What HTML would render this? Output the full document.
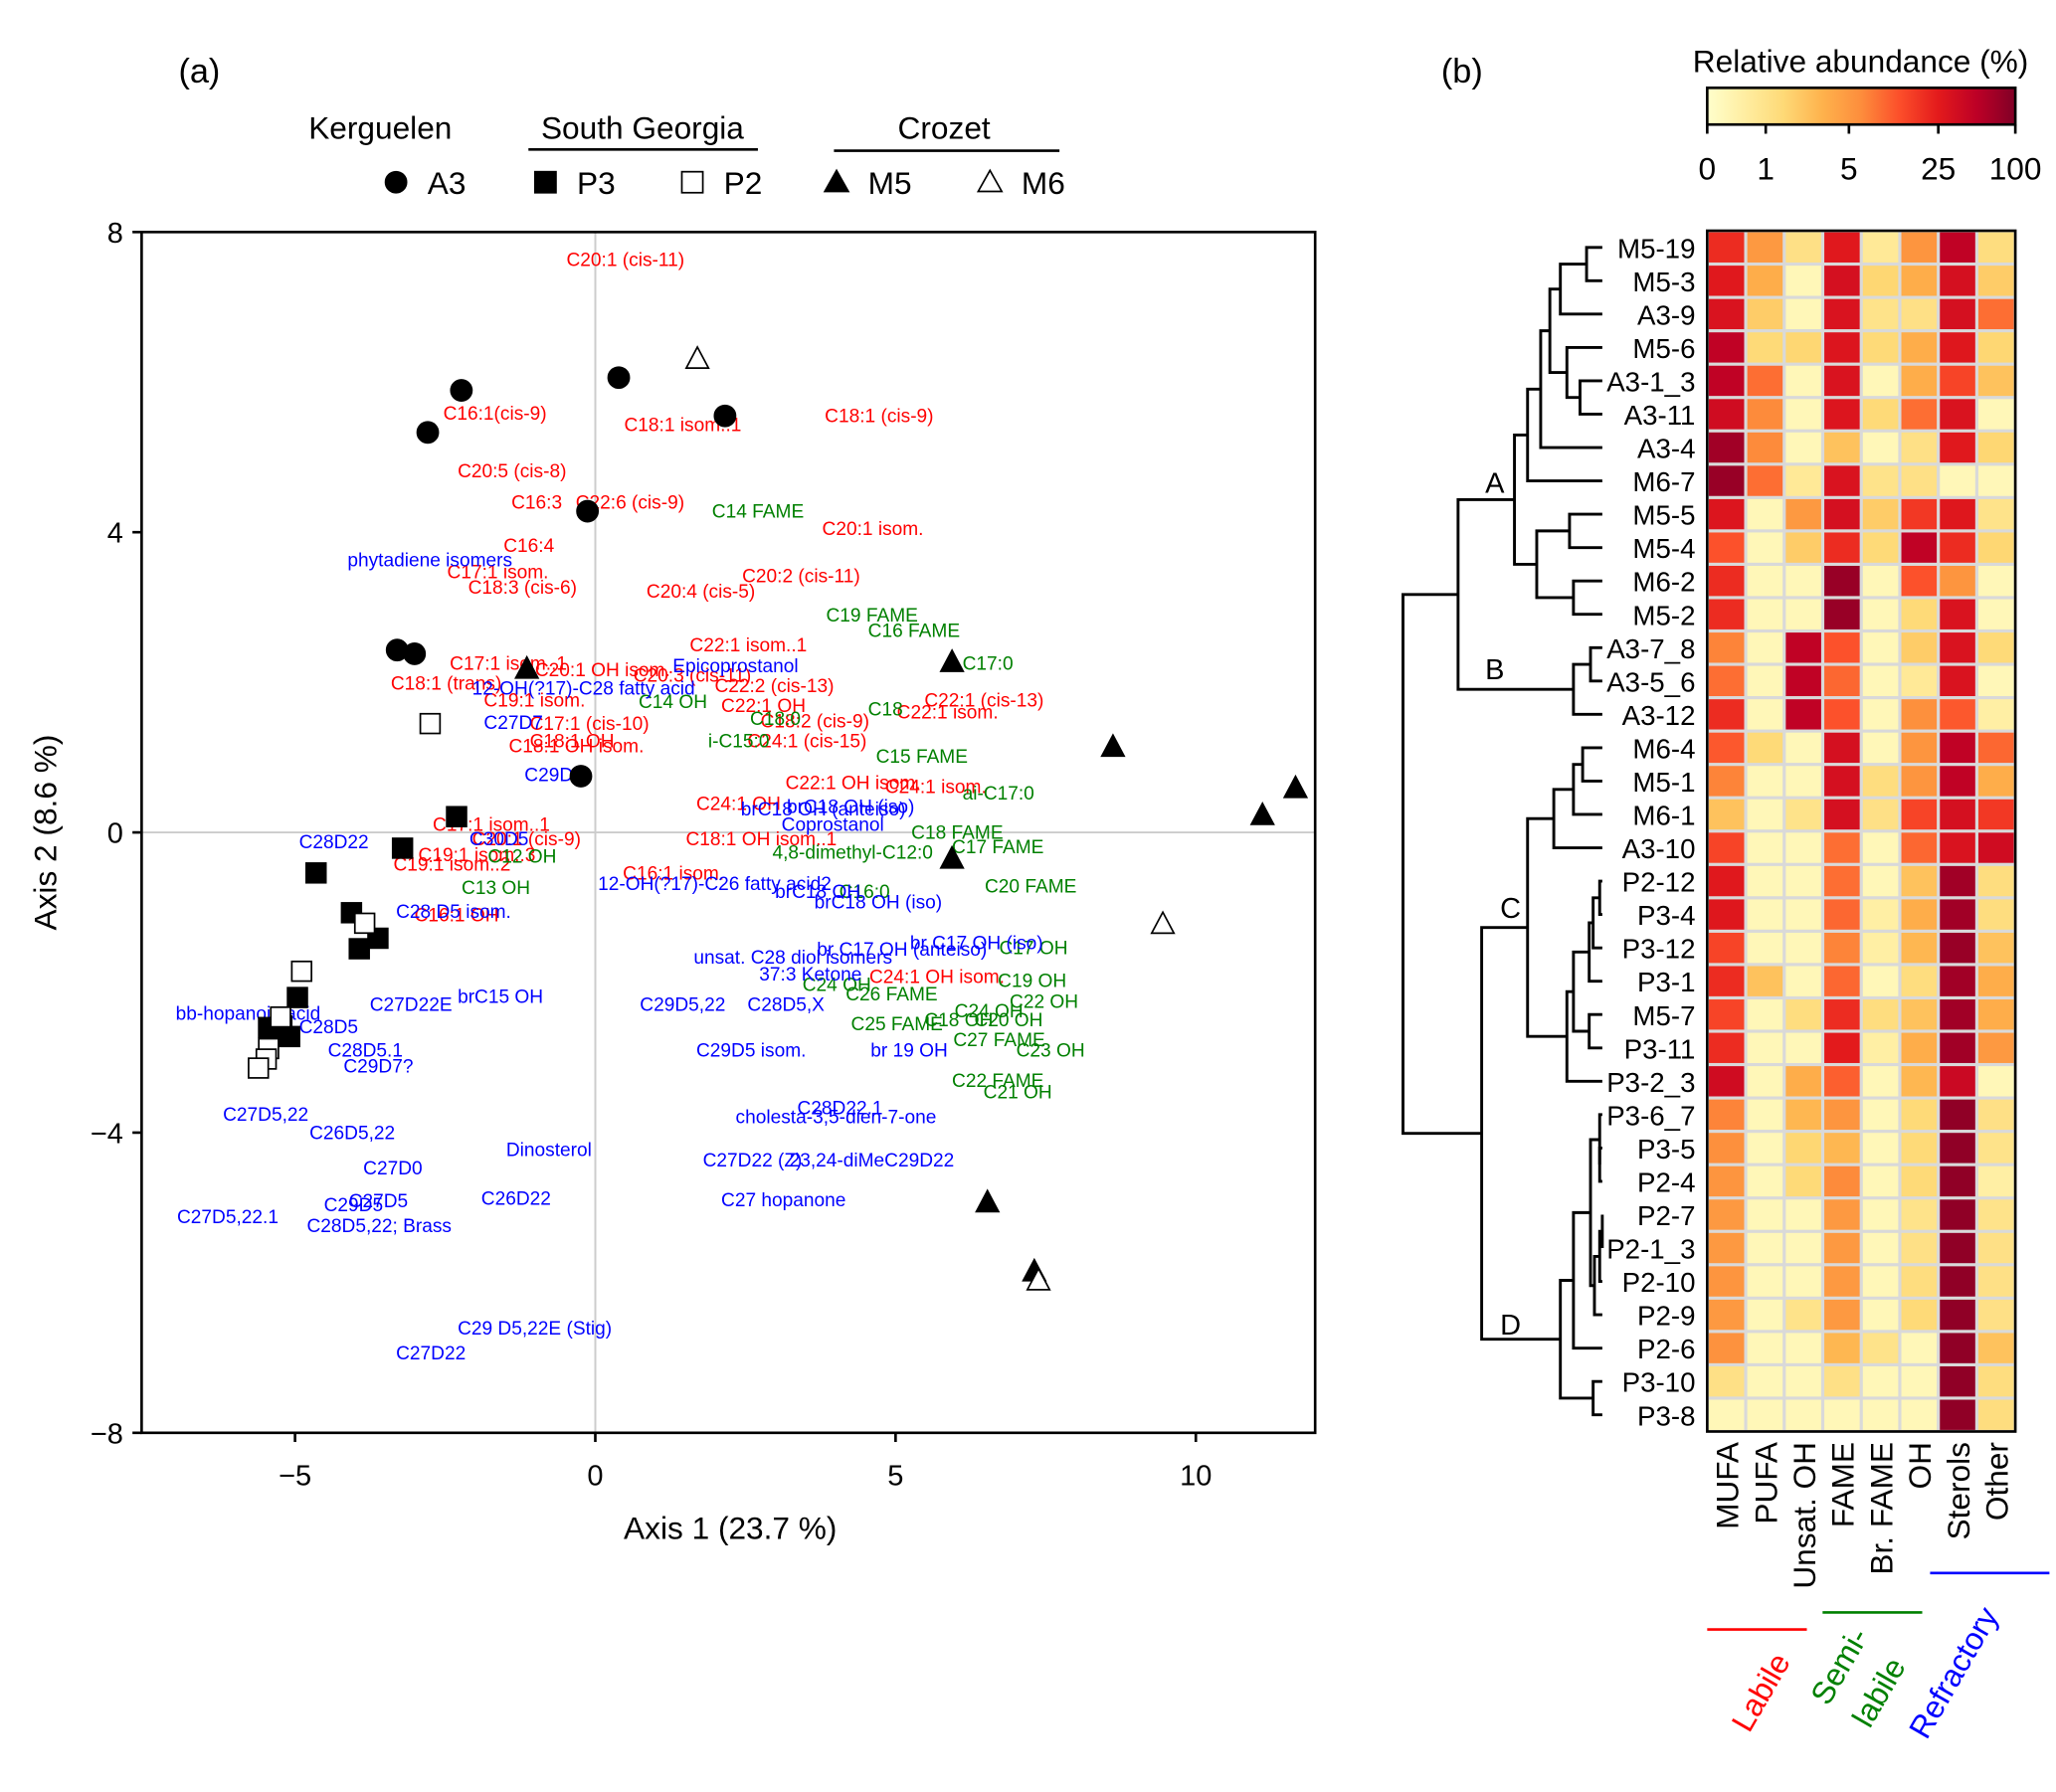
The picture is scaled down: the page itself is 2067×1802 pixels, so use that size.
<!DOCTYPE html>
<html><head><meta charset="utf-8"><style>
html,body{margin:0;padding:0;background:#fff}
svg{display:block;font-family:"Liberation Sans",Arial,sans-serif}
</style></head><body>
<svg id="fig" width="2067" height="1802" viewBox="0 0 1568 1367" xmlns="http://www.w3.org/2000/svg"></svg>
<script>
// ---------- PCA data ----------
const a3X=[-2.23,-2.79,0.39,2.16,-0.13,-3.30,-3.01,-0.24];
const a3Y=[5.89,5.33,6.06,5.55,4.28,2.43,2.38,0.75];
const p3X=[-2.31,-3.21,-4.65,-4.06,-3.62,-3.93,-4.96,-5.44,-5.09,-5.22];
const p3Y=[0.21,-0.21,-0.54,-1.07,-1.41,-1.55,-2.20,-2.60,-2.72,-2.58];
const p2X=[-2.75,-3.84,-4.89,-5.24,-5.44,-5.48,-5.61];
const p2Y=[1.45,-1.21,-1.85,-2.46,-2.88,-3.02,-3.14];
const m5X=[-1.14,5.94,8.62,11.66,11.11,5.94,6.53,7.31];
const m5Y=[2.18,2.27,1.14,0.59,0.23,-0.35,-4.93,-5.85];
const m6X=[1.70,9.45,7.38];
const m6Y=[6.31,-1.22,-5.97];
const xTicks=[-5,0,5,10];
const yTicks=[-8,-4,0,4,8];
// ---------- heatmap data ----------
const rows=["M5-19","M5-3","A3-9","M5-6","A3-1_3","A3-11","A3-4","M6-7","M5-5","M5-4","M6-2","M5-2","A3-7_8","A3-5_6","A3-12","M6-4","M5-1","M6-1","A3-10","P2-12","P3-4","P3-12","P3-1","M5-7","P3-11","P3-2_3","P3-6_7","P3-5","P2-4","P2-7","P2-1_3","P2-10","P2-9","P2-6","P3-10","P3-8"];
const cols=["MUFA","PUFA","Unsat. OH","FAME","Br. FAME","OH","Sterols","Other"];
const vals=[
[22,5,1.2,28,0.8,6,60,1.5],
[28,4,0.3,40,2,4,40,2.5],
[35,2.5,0.3,35,1,1.2,40,12],
[60,1.8,2,32,1.8,4,30,2],
[60,12,0.3,35,0.3,4,18,3],
[45,8,0.3,32,1.8,12,35,0.3],
[80,8,0.3,3,0.3,1.2,28,2],
[85,12,0.8,35,1,1.2,0.3,0.3],
[32,0.3,5,40,2.5,20,30,1],
[16,0.3,2.5,22,1.8,60,22,2],
[22,0.3,0.3,85,0.3,16,6,0.3],
[22,0.3,0.3,85,0.3,1.8,35,0.3],
[9,0.3,60,16,0.3,2.5,35,1.8],
[12,0.3,60,13,0.3,0.8,35,0.3],
[22,0.3,60,16,0.3,7,15,0.6],
[15,1.8,0.3,40,0.3,6,60,13],
[9,0.3,0.3,40,1.5,6,60,4],
[3,0.3,1,40,1.2,18,40,20],
[18,0.3,0.3,12,0.3,13,35,45],
[28,0.3,0.3,12,0.3,3,80,1.5],
[30,0.3,0.3,13,0.6,4,80,1.5],
[18,0.3,0.3,9,0.6,3.5,85,3],
[22,3,0.3,13,0.3,1.5,80,4],
[18,0.3,1.5,22,1.5,3,80,4],
[22,0.3,0.3,25,0.6,4,80,5],
[45,0.3,4,14,0.3,3.5,50,0.3],
[9,0.3,3.5,6,0.3,1.8,90,1.2],
[7,0.3,2,3.5,0.3,1.8,90,1],
[6,0.3,1.8,8,0.3,1.8,90,0.6],
[5,0.3,0.3,5,0.3,1,90,1],
[5,0.3,0.3,5,0.3,1.2,90,1.2],
[6,0.3,0.3,5,0.3,1.5,90,1.2],
[5,0.3,1,5,0.3,1.8,90,1.2],
[6.5,0.3,0.3,3.5,1,0.3,90,3],
[1.2,0.3,0.3,1.2,0.3,0.3,90,1.5],
[0.3,0.3,0.3,0.3,0.3,0.3,90,1.5]];
const cbTicks=[0,1,5,25,100];
</script>
<script>
const NS="http://www.w3.org/2000/svg";
const svg=document.getElementById('fig');
function mk(tag,attrs,parent){const e=document.createElementNS(NS,tag);for(const k in attrs)e.setAttribute(k,attrs[k]);(parent||svg).appendChild(e);return e;}
function txt(s,attrs,parent){const e=mk('text',attrs,parent);e.textContent=s;return e;}

// ----- panel a -----
const X0=108,X1=1003,Y0=177,Y1=1093;
const sx=v=>454+v*45.8, sy=v=>635-v*57.25;
const gA=mk('g',{});


let e;
e=txt('(a)',{x:152,y:63,'font-size':26,'text-anchor':'middle'},gA);

e=mk('line',{x1:sx(0),x2:sx(0),y1:Y0,y2:Y1,stroke:'#ccc','stroke-width':1.5},gA);

e=mk('line',{x1:X0,x2:X1,y1:sy(0),y2:sy(0),stroke:'#ccc','stroke-width':1.5},gA);


const labels=[
["C20:1 (cis-11)",432,203,'r'],["C16:1(cis-9)",338,320,'r'],["C18:1 isom..1",476,329,'r'],["C18:1 (cis-9)",629,322,'r'],
["C20:5 (cis-8)",349,364,'r'],["C16:3",390,388,'r'],["C22:6 (cis-9)",439,388,'r'],["C20:1 isom.",627,408,'r'],["C16:4",384,421,'r'],
["C17:1 isom.",341,441,'r'],["C18:3 (cis-6)",357,453,'r'],["C20:2 (cis-11)",566,444,'r'],["C20:4 (cis-5)",493,456,'r'],
["C22:1 isom..1",526,497,'r'],["C17:1 isom..1",343,511,'r'],["C20:1 OH isom.",408,516,'r'],["C20:3 (cis-11)",483,520,'r'],
["C18:1 (trans)",298,526,'r'],["C22:2 (cis-13)",545,528,'r'],["C19:1 isom.",369,539,'r'],["C22:1 (cis-13)",705,539,'r'],
["C22:1 OH",550,543,'r'],["C22:1 isom.",684,548,'r'],["C17:1 (cis-10)",404,557,'r'],["C18:1 OH",404,570,'r'],["C18:1 OH isom.",388,574,'r'],
["C18:2 (cis-9)",580,555,'r'],["C24:1 (cis-15)",570,570,'r'],["C22:1 OH isom.",599,602,'r'],["C24:1 isom.",675,605,'r'],["C24:1 OH",531,618,'r'],
["C18:1 OH isom..1",523,645,'r'],["C17:1 isom..1",330,634,'r'],["C20:1 (cis-9)",360,645,'r'],["C19:1 isom..3",319,657,'r'],["C19:1 isom..2",300,664,'r'],
["C16:1 isom.",475,671,'r'],["C16:1 OH",316,703,'r'],["C24:1 OH isom.",663,750,'r'],
["C14 FAME",543,395,'g'],["C19 FAME",630,474,'g'],["C16 FAME",662,486,'g'],["C17:0",734,511,'g'],["C14 OH",487,540,'g'],
["C18:0",572,553,'g'],["i-C15:0",540,570,'g'],["C18",662,546,'g'],["C15 FAME",668,582,'g'],["ai-C17:0",734,610,'g'],
["C18 FAME",695,640,'g'],["C17 FAME",726,651,'g'],["4,8-dimethyl-C12:0",589,655,'g'],["C12 OH",372,658,'g'],["C13 OH",352,682,'g'],
["C20 FAME",751,681,'g'],["C16:0",640,685,'g'],["C17 OH",762,728,'g'],["C19 OH",761,753,'g'],["C22 OH",770,769,'g'],
["C24 OH",612,756,'g'],["C26 FAME",645,763,'g'],["C25 FAME",649,786,'g'],["C18 OH",705,783,'g'],["C20 OH",743,783,'g'],
["C24 OH",728,776,'g'],["C27 FAME",727,798,'g'],["C23 OH",775,806,'g'],["C22 FAME",726,829,'g'],["C21 OH",750,838,'g'],
["phytadiene isomers",265,432,'b'],["Epicoprostanol",513,513,'b'],["12-OH(?17)-C28 fatty acid",360,530,'b'],["C27D7",369,556,'b'],
["C29D",400,596,'b'],["C28D22",228,647,'b'],["C30D5",358,645,'b'],["brC18 OH (anteiso)",565,622,'b'],["brC18 OH (iso)",600,620,'b'],
["Coprostanol",596,634,'b'],["12-OH(?17)-C26 fatty acid2",456,679,'b'],["brC18 OH",591,685,'b'],["brC18 OH (iso)",621,693,'b'],
["C28 D5 isom.",302,700,'b'],["unsat. C28 diol isomers",529,735,'b'],["br C17 OH (anteiso)",623,729,'b'],["br C17 OH (iso)",694,724,'b'],
["37:3 Ketone",579,748,'b'],["bb-hopanoic acid",134,778,'b'],["C28D5",228,788,'b'],["C27D22E",282,771,'b'],["brC15 OH",349,765,'b'],
["C29D5,22",488,771,'b'],["C28D5,X",570,771,'b'],["C28D5.1",250,806,'b'],["C29D7?",262,818,'b'],["C29D5 isom.",531,806,'b'],
["br 19 OH",664,806,'b'],["C28D22.1",608,850,'b'],["cholesta-3,5-dien-7-one",561,857,'b'],["C27D5,22",170,855,'b'],
["C26D5,22",236,869,'b'],["Dinosterol",386,882,'b'],["C27D0",277,896,'b'],["C27D22 (Z)",536,890,'b'],["23,24-diMeC29D22",602,890,'b'],
["C27D5",266,921,'b'],["C29D5",247,924,'b'],["C26D22",367,919,'b'],["C27 hopanone",550,920,'b'],["C27D5,22.1",135,933,'b'],
["C28D5,22; Brass",234,940,'b'],["C29 D5,22E (Stig)",349,1018,'b'],["C27D22",302,1037,'b']];
const colMap={r:'#ff0000',g:'#008000',b:'#0000ff'};
const gL=mk('g',{'font-size':14.5},gA);

labels.forEach(l=>{const t=txt(l[0],{x:l[1],y:l[2],fill:colMap[l[3]]},gL);

});

function drawSeries(xs,ys,shape,filled,name){
 const g=mk('g',{},gA);
 
 xs.forEach((xv,i)=>{const cx=sx(xv),cy=sy(ys[i]);let m;
  const f=filled?'#000':'#fff';
  if(shape==='c')m=mk('circle',{cx:cx,cy:cy,r:8,fill:f,stroke:'#000','stroke-width':1.3},g);
  else if(shape==='s')m=mk('rect',{x:cx-7.5,y:cy-7.5,width:15,height:15,fill:f,stroke:'#000','stroke-width':1.3},g);
  else m=mk('polygon',{points:`${cx},${cy-9} ${cx+8.5},${cy+7} ${cx-8.5},${cy+7}`,fill:f,stroke:'#000','stroke-width':1.3},g);
  
  });
}
drawSeries(a3X,a3Y,'c',true,'a3');
drawSeries(p3X,p3Y,'s',true,'p3');
drawSeries(p2X,p2Y,'s',false,'p2');
drawSeries(m5X,m5Y,'t',true,'m5');
drawSeries(m6X,m6Y,'t',false,'m6');

e=mk('rect',{x:X0,y:Y0,width:X1-X0,height:Y1-Y0,fill:'none',stroke:'#000','stroke-width':2},gA);

const gX=mk('g',{'font-size':22,'text-anchor':'middle'},gA);

xTicks.forEach(v=>{mk('line',{x1:sx(v),x2:sx(v),y1:Y1,y2:Y1+7,stroke:'#000','stroke-width':2},gX);
 const t=txt(v<0?'\u2212'+(-v):String(v),{x:sx(v),y:Y1+40},gX);
 });
const gY=mk('g',{'font-size':22,'text-anchor':'end'},gA);

yTicks.forEach(v=>{mk('line',{x1:X0-7,x2:X0,y1:sy(v),y2:sy(v),stroke:'#000','stroke-width':2},gY);
 const t=txt(v<0?'\u2212'+(-v):String(v),{x:X0-14,y:sy(v)+8},gY);
 });
e=txt('Axis 1 (23.7 %)',{x:557,y:1174,'font-size':24,'text-anchor':'middle'},gA);

e=txt('Axis 2 (8.6 %)',{x:0,y:0,'font-size':24,'text-anchor':'middle',transform:'translate(43,635) rotate(-90)'},gA);


const gLeg=mk('g',{'font-size':24},gA);

e=txt('Kerguelen',{x:290,y:106,'text-anchor':'middle'},gLeg);
e=txt('South Georgia',{x:490,y:106,'text-anchor':'middle'},gLeg);
e=txt('Crozet',{x:720,y:106,'text-anchor':'middle'},gLeg);
mk('line',{x1:403,x2:578,y1:114,y2:114,stroke:'#000','stroke-width':2},gLeg);
mk('line',{x1:636,x2:808,y1:115,y2:115,stroke:'#000','stroke-width':2},gLeg);
const legItems=[['A3',302,'c',true],['P3',416,'s',true],['P2',528,'s',false],['M5',638,'t',true],['M6',755,'t',false]];
legItems.forEach(li=>{const cx=li[1],cy=139,f=li[3]?'#000':'#fff';
 const g=mk('g',{},gLeg);
 
 if(li[2]==='c')mk('circle',{cx:cx,cy:cy,r:8,fill:f,stroke:'#000','stroke-width':1.3},g);
 else if(li[2]==='s')mk('rect',{x:cx-8,y:cy-8,width:16,height:16,fill:f,stroke:'#000','stroke-width':1.3},g);
 else mk('polygon',{points:`${cx},${cy-9} ${cx+9},${cy+7} ${cx-9},${cy+7}`,fill:f,stroke:'#000','stroke-width':1.3},g);
 txt(li[0],{x:cx+24,y:cy+9},g);});

// ----- panel b -----
const gB=mk('g',{});

e=txt('(b)',{x:1115,y:63,'font-size':26,'text-anchor':'middle'},gB);

const stops=['#ffffcc','#ffeda0','#fed976','#feb24c','#fd8d3c','#fc4e2a','#e31a1c','#bd0026','#800026'];
const tickPos=[0,0.19,0.46,0.75,1];
function vToT(v){for(let i=0;i<cbTicks.length-1;i++){if(v<=cbTicks[i+1]){return tickPos[i]+(v-cbTicks[i])/(cbTicks[i+1]-cbTicks[i])*(tickPos[i+1]-tickPos[i]);}}return 1;}
function hex(h){return [1,3,5].map(i=>parseInt(h.substr(i,2),16));}
function cmap(t){t=Math.max(0,Math.min(1,t));const p=t*(stops.length-1),i=Math.min(Math.floor(p),stops.length-2),f=p-i;
 const a=hex(stops[i]),b=hex(stops[i+1]);return 'rgb('+a.map((c,k)=>Math.round(c+(b[k]-c)*f)).join(',')+')';}
const CB0=1302,CB1=1537;
const grad=mk('linearGradient',{id:'cbg',x1:0,x2:1,y1:0,y2:0},mk('defs',{},gB));
stops.forEach((s,i)=>mk('stop',{offset:i/(stops.length-1),'stop-color':s},grad));
e=mk('rect',{x:CB0,y:67,width:CB1-CB0,height:28,fill:'url(#cbg)',stroke:'#000','stroke-width':2},gB);

e=txt('Relative abundance (%)',{x:1419,y:55,'font-size':24,'text-anchor':'middle'},gB);

cbTicks.forEach((v,i)=>{const x=CB0+tickPos[i]*(CB1-CB0);
 mk('line',{x1:x,x2:x,y1:95,y2:102,stroke:'#000','stroke-width':2},gB);
 const t=txt(String(v),{x:x,y:137,'font-size':24,'text-anchor':'middle'},gB);
 });
const HX=1302,HY=176,CW=(1537-1302)/cols.length,RH=(1092-176)/rows.length;
e=mk('rect',{x:HX,y:HY,width:CW*cols.length,height:RH*rows.length,fill:'#d9d9d9'},gB);
const gC=mk('g',{},gB);
rows.forEach((r,i)=>{cols.forEach((c,j)=>{const m=mk('rect',{x:HX+j*CW+1.2,y:HY+i*RH+1.2,width:CW-2.4,height:RH-2.4,fill:cmap(vToT(vals[i][j]))},gC);
 
 });
 const t=txt(r,{x:1293,y:HY+(i+0.5)*RH+8,'font-size':21,'text-anchor':'end'},gB);
 });
e=mk('rect',{x:HX,y:HY,width:CW*cols.length,height:RH*rows.length,fill:'none',stroke:'#000','stroke-width':2},gB);

cols.forEach((c,j)=>{const t=txt(c,{x:0,y:0,'font-size':24,'text-anchor':'end',transform:`translate(${HX+(j+0.5)*CW+9},1100) rotate(-90)`},gB);
 });
e=mk('line',{x1:1302,x2:1378,y1:1243,y2:1243,stroke:'#ff0000','stroke-width':2},gB);
e=mk('line',{x1:1390,x2:1466,y1:1230,y2:1230,stroke:'#008000','stroke-width':2},gB);
e=mk('line',{x1:1472,x2:1563,y1:1200,y2:1200,stroke:'#0000ff','stroke-width':2},gB);
e=txt('Labile',{x:0,y:0,'font-size':24,fill:'#ff0000','text-anchor':'middle',transform:'translate(1350,1295) rotate(-60)'},gB);
e=txt('Semi-',{x:0,y:0,'font-size':24,fill:'#008000','text-anchor':'middle',transform:'translate(1410,1275) rotate(-60)'},gB);
e=txt('labile',{x:0,y:0,'font-size':24,fill:'#008000','text-anchor':'middle',transform:'translate(1440,1295) rotate(-60)'},gB);
e=txt('Refractory',{x:0,y:0,'font-size':24,fill:'#0000ff','text-anchor':'middle',transform:'translate(1497,1280) rotate(-60)'},gB);

const yr=i=>HY+(i+0.5)*RH, LX=1222;
function N(x,a,b){return {x:x,a:a,b:b};}
function yOf(n){return typeof n==='number'?yr(n):(yOf(n.a)+yOf(n.b))/2;}
function xOf(n){return typeof n==='number'?LX:n.x;}
const gD=mk('g',{fill:'none',stroke:'#000','stroke-width':2.2},gB);

function drawN(n){if(typeof n==='number')return;const ya=yOf(n.a),yb=yOf(n.b);
 mk('path',{d:`M${xOf(n.a)},${ya}H${n.x}V${yb}H${xOf(n.b)}`},gD);drawN(n.a);drawN(n.b);}
const cA=N(1182,N(1190,N(1210,0,1),2),N(1195,3,N(1205,4,5)));
const cA2=N(1155,N(1165,N(1175,cA,6),7),N(1172,N(1197,8,9),N(1200,10,11)));
const cB=N(1200,N(1213,12,13),14);
const cAB=N(1112,cA2,cB);
const cC1=N(1185,N(1200,N(1207,15,16),17),18);
const cP=N(1200,N(1212,N(1215,N(1220,19,20),21),22),N(1212,23,24));
const cC=N(1165,cC1,N(1195,cP,25));
const cD1=N(1213,N(1220,26,N(1220,27,28)),N(1216,N(1220,N(1222,29,30),31),32));
const cD=N(1190,N(1200,cD1,33),N(1215,34,35));
const cCD=N(1130,cC,cD);
const root=N(1070,cAB,cCD);
drawN(root);
const gDL=mk('g',{'font-size':22,'text-anchor':'middle'},gB);
[['A',1140,376],['B',1140,518],['C',1152,700],['D',1152,1018]].forEach(l=>{const t=txt(l[0],{x:l[1],y:l[2]},gDL);
 });
</script>
</body></html>
